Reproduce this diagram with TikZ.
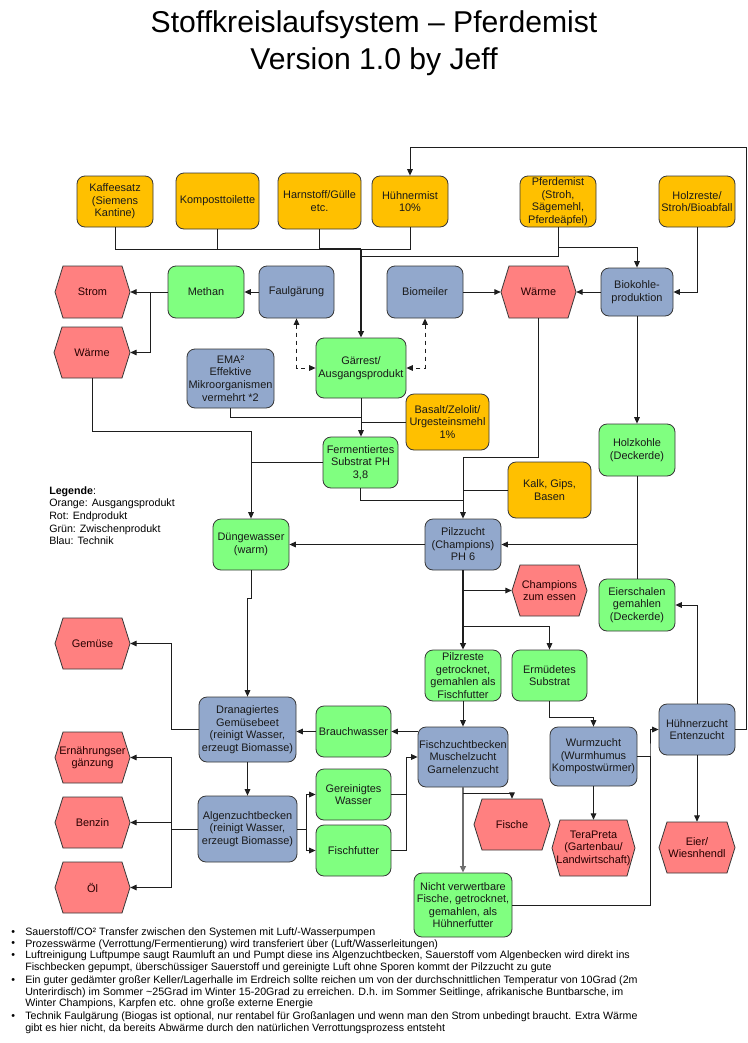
\documentclass[tikz,border=0pt]{standalone}
\usepackage{fontspec}
\setmainfont{Liberation Sans}
\usetikzlibrary{arrows.meta}
\definecolor{cor}{RGB}{255,192,0}
\definecolor{cred}{RGB}{255,128,128}
\definecolor{cgreen}{RGB}{128,255,128}
\definecolor{cblue}{RGB}{146,168,204}
\definecolor{cline}{RGB}{30,30,30}
\definecolor{cbord}{RGB}{55,55,55}
\definecolor{cgray}{RGB}{110,110,110}
\tikzset{
  box/.style={draw=cbord,line width=0.6pt,rounded corners=6pt,align=center,inner sep=0.5pt,
    font=\fontsize{8.2}{9.4}\selectfont,text=black!90},
  hexn/.style={draw=none,align=center,inner sep=0.5pt,font=\fontsize{8.2}{9.4}\selectfont,text=black!85!red},
  conn/.style={draw=cline,line width=0.7pt},
  thickc/.style={draw=cline,line width=1.4pt},
  thickg/.style={draw=cgray,line width=1.4pt},
  btxt/.style={anchor=west,inner sep=0pt,font=\fontsize{8.0}{10}\selectfont},
  >={Triangle[length=4.8pt,width=4.2pt]}
}
\newcommand{\bx}[7]{%
  \pgfmathsetmacro{\bxcx}{(#2+#4)/2}%
  \pgfmathsetmacro{\bxcy}{(#3+#5)/2}%
  \pgfmathsetmacro{\bxw}{(#4-#2)*0.75}%
  \pgfmathsetmacro{\bxh}{(#5-#3)*0.75}%
  \node[box,#6,minimum width=\bxw pt,minimum height=\bxh pt] (#1) at (\bxcx,\bxcy) {#7};}
\newcommand{\hx}[6]{%
  \pgfmathsetmacro{\bxcx}{(#2+#4)/2}%
  \pgfmathsetmacro{\bxcy}{(#3+#5)/2}%
  \pgfmathsetmacro{\bxw}{(#4-#2)*0.75}%
  \pgfmathsetmacro{\bxh}{(#5-#3)*0.75}%
  \pgfmathsetmacro{\bxa}{#2+8}%
  \pgfmathsetmacro{\bxb}{#4-8}%
  \filldraw[fill=cred,draw=cbord,line width=0.6pt] (#2,\bxcy) -- (\bxa,#3) -- (\bxb,#3) -- (#4,\bxcy) -- (\bxb,#5) -- (\bxa,#5) -- cycle;
  \node[hexn,minimum width=\bxw pt,minimum height=\bxh pt] (#1) at (\bxcx,\bxcy) {#6};}
\begin{document}
\begin{tikzpicture}[x=0.75pt,y=-0.75pt]
\fill[white] (0,0) rectangle (748,1043);
\useasboundingbox (0,0) rectangle (748,1043);

% title
\node[font=\fontsize{22.6}{27}\selectfont] (t1) at (374,25) {Stoffkreislaufsystem – Pferdemist};
\node[font=\fontsize{22.6}{27}\selectfont] (t2) at (374,62) {Version 1.0 by Jeff};

% top row
\bx{kaffee}{77}{176}{153}{227}{fill=cor}{Kaffeesatz\\(Siemens\\Kantine)}
\bx{kompost}{176}{173}{259}{229}{fill=cor}{Komposttoilette}
\bx{harn}{278}{173}{361}{229}{fill=cor}{Harnstoff/Gülle\\etc.}
\bx{huehner}{372}{176}{448}{227}{fill=cor}{Hühnermist\\10\%}
\bx{pferd}{520}{176}{596}{227}{fill=cor}{Pferdemist\\(Stroh,\\Sägemehl,\\Pferdeäpfel)}
\bx{holz}{659}{176}{735}{227}{fill=cor}{Holzreste/\\Stroh/Bioabfall}

% second row
\hx{strom}{55}{266}{130}{318}{Strom}
\bx{methan}{168}{266}{244}{318}{fill=cgreen}{Methan}
\bx{faul}{259}{266}{334}{318}{fill=cblue}{Faulgärung}
\bx{biomeiler}{387}{266}{463}{318}{fill=cblue}{Biomeiler}
\hx{waermeM}{501}{266}{576}{318}{Wärme}
\bx{biokohle}{601}{268}{673}{316}{fill=cblue}{Biokohle-\\produktion}
\hx{waermeL}{54}{327}{130}{378}{Wärme}
\bx{ema}{187}{349}{274}{408}{fill=cblue}{EMA²\\Effektive\\Mikroorganismen\\vermehrt *2}
\bx{gaer}{316}{338}{406}{398}{fill=cgreen}{Gärrest/\\Ausgangsprodukt}
\bx{basalt}{406}{394}{489}{450}{fill=cor}{Basalt/Zelolit/\\Urgesteinsmehl\\1\%}
\bx{ferm}{323}{437}{398}{488}{fill=cgreen}{Fermentiertes\\Substrat PH\\3,8}
\bx{holzk}{599}{424}{675}{476}{fill=cgreen}{Holzkohle\\(Deckerde)}
\bx{kalk}{508}{462}{591}{518}{fill=cor}{Kalk, Gips,\\Basen}
\bx{duenge}{213}{519}{289}{570}{fill=cgreen}{Düngewasser\\(warm)}
\bx{pilz}{425}{519}{501}{570}{fill=cblue}{Pilzzucht\\(Champions)\\PH 6}
\hx{champ}{512}{565}{587}{616}{Champions\\zum essen}
\bx{eiersch}{599}{579}{675}{631}{fill=cgreen}{Eierschalen\\gemahlen\\(Deckerde)}
\hx{gemuese}{55}{618}{130}{669}{Gemüse}
\bx{pilzreste}{425}{650}{501}{701}{fill=cgreen}{Pilzreste\\getrocknet,\\gemahlen als\\Fischfutter}
\bx{ermued}{512}{650}{587}{701}{fill=cgreen}{Ermüdetes\\Substrat}
\bx{dran}{199}{697}{296}{762}{fill=cblue}{Dranagiertes\\Gemüsebeet\\(reinigt Wasser,\\erzeugt Biomasse)}
\bx{brauch}{316}{706}{391}{757}{fill=cgreen}{Brauchwasser}
\bx{fisch}{418}{727}{508}{787}{fill=cblue}{Fischzuchtbecken\\Muschelzucht\\Garnelenzucht}
\bx{wurm}{550}{727}{637}{786}{fill=cblue}{Wurmzucht\\(Wurmhumus\\Kompostwürmer)}
\bx{hz}{659}{704}{735}{755}{fill=cblue}{Hühnerzucht\\Entenzucht}
\hx{ern}{55}{732}{130}{783}{Ernährungser\\gänzung}
\bx{gerein}{316}{769}{391}{820}{fill=cgreen}{Gereinigtes\\Wasser}
\bx{algen}{198}{796}{297}{862}{fill=cblue}{Algenzuchtbecken\\(reinigt Wasser,\\erzeugt Biomasse)}
\hx{benzin}{55}{797}{130}{848}{Benzin}
\bx{fischf}{316}{825}{391}{876}{fill=cgreen}{Fischfutter}
\hx{fische}{474}{799}{550}{850}{Fische}
\hx{tera}{552}{820}{635}{876}{TeraPreta\\(Gartenbau/\\Landwirtschaft)}
\hx{eier}{659}{822}{735}{873}{Eier/\\Wiesnhendl}
\hx{oel}{55}{862}{130}{913}{Öl}
\bx{nicht}{414}{873}{512}{937}{fill=cgreen}{Nicht verwertbare\\Fische, getrocknet,\\gemahlen, als\\Hühnerfutter}

% junctions
\coordinate (jA) at (361,249);
\coordinate (jB) at (361,256);
\coordinate (jC) at (558,247);
\coordinate (jE) at (746,147);
\coordinate (jF) at (150,292);
\coordinate (jG) at (361,417);
\coordinate (jH) at (251,431);
\coordinate (jI) at (463,457);
\coordinate (jJ) at (463,500);
\coordinate (jK) at (463,626);
\coordinate (jL) at (593.5,717);
\coordinate (jM) at (650,757);
\coordinate (jO) at (171,829);
\coordinate (jP) at (306,829);
\coordinate (jQ) at (406,757);
\coordinate (jR) at (463,793);
\coordinate (jS) at (251,598);

% connectors
\draw[conn] (kaffee.south) |- (jA);
\draw[conn] (kompost.south) |- (jA);
\draw[thickc] (harn.south) |- (jA);
\draw[conn] (huehner.south) |- (jA);
\draw[conn] (pferd.south) |- (jB);
\draw[conn,->] (jC) -| (biokohle.north);
\draw[thickc,->] (jA) -- (gaer.north);
\draw[conn,->] (hz.east) -| (jE) -| (huehner.north);
\draw[conn,->] (faul.west) -- (methan.east);
\draw[conn,->] (methan.west) -- (strom.east);
\draw[conn,->] (jF) |- (waermeL.east);
\draw[conn,->] (biomeiler.east) -- (waermeM.west);
\draw[conn,->] (biokohle.west) -- (waermeM.east);
\draw[conn,->] (holz.south) |- (biokohle.east);
\draw[conn,dashed,<->] (faul.south) |- (gaer.west);
\draw[conn,dashed,<->] (biomeiler.south) |- (gaer.east);
\draw[conn,->] (gaer.south) -- (ferm.north -| gaer.south);
\draw[conn] (ema.south) |- (jG);
\draw[conn] (basalt.west) -- (basalt.west -| jG);
\draw[conn,->] (waermeL.south) |- (jH) -- (duenge.north);
\draw[conn] (ferm.west) -- (ferm.west -| jH);
\draw[conn,->] (waermeM.south) |- (jI) -- (pilz.north);
\draw[conn] (ferm.south) |- (jJ);
\draw[conn] (kalk.west) -- (kalk.west -| jJ);
\draw[conn,->] (biokohle.south) -- (holzk.north);
\draw[conn] (holzk.south) -- (eiersch.north);
\draw[conn,->] (holzk.south |- pilz.east) -- (pilz.east);
\draw[conn,->] (pilz.west) -- (duenge.east);
\draw[thickc,->] (pilz.south) -- (pilzreste.north);
\draw[conn,->] (pilz.south |- champ.west) -- (champ.west);
\draw[conn,->] (jK) -| (ermued.north);
\draw[conn,->] (hz.north) |- (eiersch.east);
\draw[conn,->] (pilzreste.south) -- (fisch.north);
\draw[conn,->] (ermued.south) |- (jL) -- (wurm.north);
\draw[conn,->] (wurm.east) -| (jM) |- (hz.west);
\draw[conn] (nicht.east) -| (jM);
\draw[conn,->] (hz.south) -- (eier.north);
\draw[conn,->] (wurm.south) -- (tera.north);
\draw[thickg,->] (fisch.south) -- (nicht.north);
\draw[conn,->] (jR) -| (fische.north);
\draw[conn,->] (fisch.west |- brauch.east) -- (brauch.east);
\draw[conn,->] (brauch.west) -- (brauch.west -| dran.east);
\draw[conn,->] (duenge.south) -- (jS) -| (dran.north);
\draw[conn,->] (dran.west) -- (dran.west -| jO) |- (gemuese.east);
\draw[conn,->] (dran.south) -- (algen.north);
\draw[conn] (algen.west) -- (jO);
\draw[conn,->] (jO) |- (ern.east);
\draw[conn,->] (jO) |- (benzin.east);
\draw[conn,->] (jO) |- (oel.east);
\draw[conn] (algen.east) -- (jP);
\draw[conn,->] (jP) |- (gerein.west);
\draw[conn,->] (jP) |- (fischf.west);
\draw[conn] (gerein.east) -| (jQ);
\draw[conn] (fischf.east) -| (jQ);
\draw[conn,->] (jQ) -- (fisch.west);

% legend
\node[anchor=north west,align=left,inner sep=0pt,font=\fontsize{8}{9.56}\selectfont] (leg) at (49,486)
 {\textbf{Legende}:\\Orange: Ausgangsprodukt\\Rot: Endprodukt\\Grün: Zwischenprodukt\\Blau: Technik};

% bottom notes
\node[btxt] (b1) at (11,933) {•};
\node[btxt] (b2) at (11,944) {•};
\node[btxt] (b3) at (11,956) {•};
\node[btxt] (b4) at (11,981) {•};
\node[btxt] (b5) at (11,1017) {•};
\node[btxt] (l1) at (25,933) {Sauerstoff/CO² Transfer zwischen den Systemen mit Luft/-Wasserpumpen};
\node[btxt] (l2) at (25,944.5) {Prozesswärme (Verrottung/Fermentierung) wird transferiert über (Luft/Wasserleitungen)};
\node[btxt] (l3) at (25,956) {Luftreinigung Luftpumpe saugt Raumluft an und Pumpt diese ins Algenzuchtbecken, Sauerstoff vom Algenbecken wird direkt ins};
\node[btxt] (l4) at (25,967.5) {Fischbecken gepumpt, überschüssiger Sauerstoff und gereinigte Luft ohne Sporen kommt der Pilzzucht zu gute};
\node[btxt] (l5) at (25,981) {Ein guter gedämter großer Keller/Lagerhalle im Erdreich sollte reichen um von der durchschnittlichen Temperatur von 10Grad (2m};
\node[btxt] (l6) at (25,992.5) {Unterirdisch) im Sommer \textasciitilde25Grad im Winter 15-20Grad zu erreichen. D.h. im Sommer Seitlinge, afrikanische Buntbarsche, im};
\node[btxt] (l7) at (25,1004) {Winter Champions, Karpfen etc. ohne große externe Energie};
\node[btxt] (l8) at (25,1017) {Technik Faulgärung (Biogas ist optional, nur rentabel für Großanlagen und wenn man den Strom unbedingt braucht. Extra Wärme};
\node[btxt] (l9) at (25,1028.5) {gibt es hier nicht, da bereits Abwärme durch den natürlichen Verrottungsprozess entsteht};
\end{tikzpicture}
\end{document}
